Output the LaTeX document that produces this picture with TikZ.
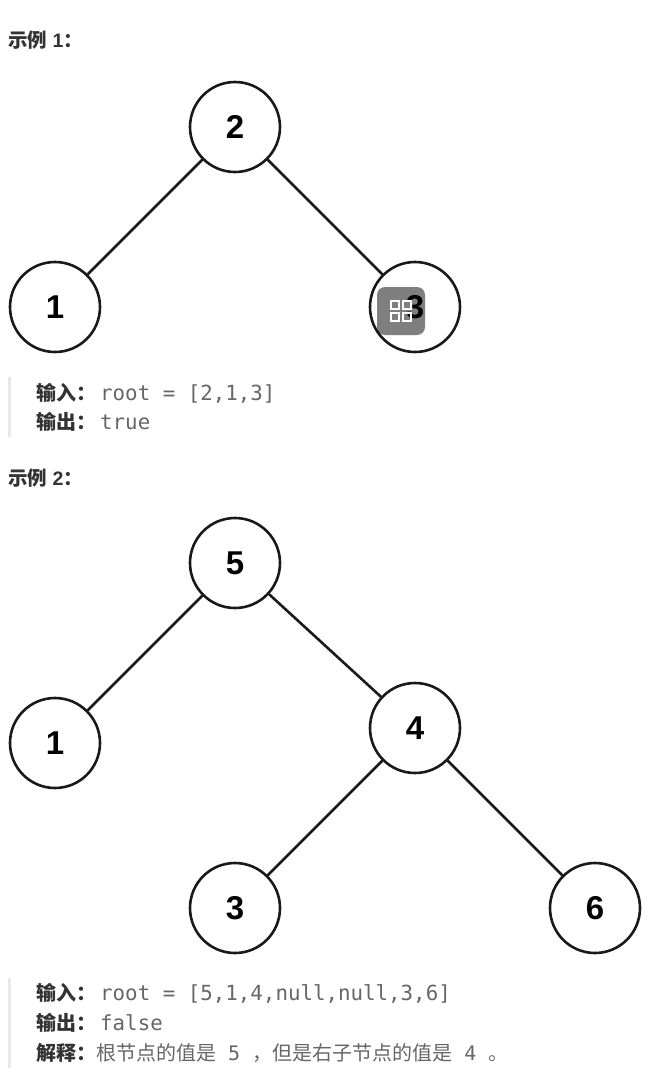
\documentclass[tikz,border=0pt]{standalone}
\usepackage{fontspec}
\setmainfont{Liberation Sans}
\setmonofont{DejaVu Sans Mono}
\newfontfamily\cjk{Noto Sans CJK SC}
\usetikzlibrary{positioning}
\definecolor{headtext}{HTML}{333333}
\definecolor{codetext}{HTML}{666666}
\definecolor{barcolor}{HTML}{E8E8E8}
\begin{document}
\begin{tikzpicture}[
  x=1pt, y=-1pt,
  treenode/.style={circle, draw=black!90, line width=2.6pt, minimum size=90pt, inner sep=0pt,
                   font=\fontsize{33pt}{33pt}\selectfont\bfseries},
  edge/.style={draw=black!90, line width=2.6pt},
  heading/.style={anchor=base west, inner sep=0pt, text=headtext, font=\fontsize{19.5pt}{20pt}\selectfont\bfseries},
  keyword/.style={anchor=base west, inner sep=0pt, text=headtext, font=\fontsize{20pt}{20pt}\selectfont\cjk\bfseries},
  code/.style={anchor=base west, inner sep=0pt, text=codetext, font=\fontsize{20.8pt}{20pt}\selectfont\ttfamily},
  note/.style={anchor=base west, inner sep=0pt, text=codetext, font=\fontsize{20pt}{20pt}\selectfont\cjk},
  bar/.style={fill=barcolor, draw=none}
]
\useasboundingbox (0,0) rectangle (669,1090);

% example 1
\node[heading] (headone) at (8,47) {{\cjk 示例} 1{\cjk ：}};

\node[treenode] (a2) at (235,127) {2};
\node[treenode] (a1) at (55,307) {1};
\node[treenode] (a3) at (415,307) {3};
\draw[edge] (a2) -- (a1);
\draw[edge] (a2) -- (a3);

% copy button over the node
\node[fill=black, fill opacity=0.5, rounded corners=8pt, minimum size=48pt, inner sep=0pt] (icon) at (401,311) {};
\foreach \dx in {-6,6}
  \foreach \dy in {-6,6}
    \draw[white, line width=1.2pt] ([shift={(\dx-4,\dy-4)}]icon.center) rectangle ++(8,8);

\fill[bar] (8,377) rectangle (11,437);
\node[keyword] (inone) at (36,400) {输入：};
\node[code] (inoneval) at (100,400) {root = [2,1,3]};
\node[keyword] (outone) at (36,429) {输出：};
\node[code] (outoneval) at (100,429) {true};

% example 2
\node[heading] (headtwo) at (8,485) {{\cjk 示例} 2{\cjk ：}};

\node[treenode] (b5) at (235,563) {5};
\node[treenode] (b1) at (55,743) {1};
\node[treenode] (b4) at (415,728) {4};
\node[treenode] (b3) at (235,908) {3};
\node[treenode] (b6) at (595,908) {6};
\draw[edge] (b5) -- (b1);
\draw[edge] (b5) -- (b4);
\draw[edge] (b4) -- (b3);
\draw[edge] (b4) -- (b6);

\fill[bar] (8,978) rectangle (11,1068);
\node[keyword] (intwo) at (36,1000) {输入：};
\node[code] (intwoval) at (100,1000) {root = [5,1,4,null,null,3,6]};
\node[keyword] (outtwo) at (36,1030) {输出：};
\node[code] (outtwoval) at (100,1030) {false};
\node[keyword] (why) at (36,1060) {解释：};
\node[note] (whyval) at (96,1060) {根节点的值是{\ttfamily\ 5\ }，但是右子节点的值是{\ttfamily\ 4\ }。};
\end{tikzpicture}
\end{document}
